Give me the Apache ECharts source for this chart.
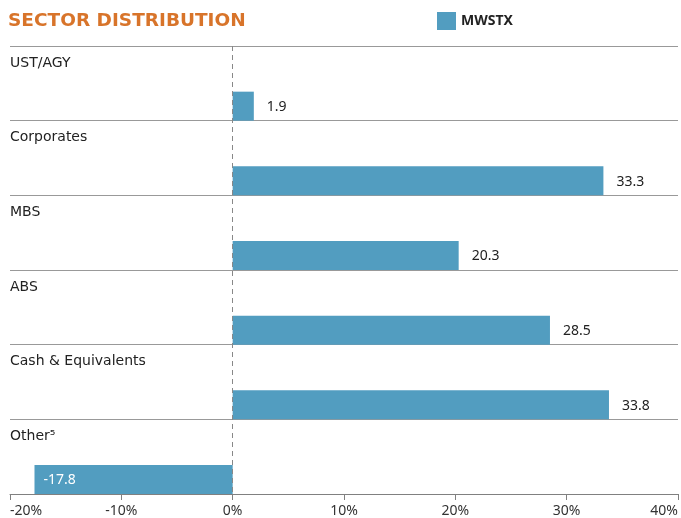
<!DOCTYPE html>
<html>
<head>
<meta charset="utf-8">
<script src="https://cdn.jsdelivr.net/npm/echarts@6/dist/echarts.min.js"></script>
<style>
html,body{margin:0;padding:0;background:#fff;}
#chart{width:681px;height:518px;}
</style>
</head>
<body>
<div id="chart"></div>
<script>
var categories = ['UST/AGY', 'Corporates', 'MBS', 'ABS', 'Cash & Equivalents', 'Other\u2075'];
var mwstxValues = [1.9, 33.3, 20.3, 28.5, 33.8, -17.8];
var xTicks = [-20, -10, 0, 10, 20, 30, 40];
var seriesName = 'MWSTX';
var chartTitle = 'SECTOR DISTRIBUTION';

var BAR_COLOR = '#529DC0';
var FONT = '"Noto Sans", sans-serif';
var CAT_FONT = '"DejaVu Sans", sans-serif';

var chart = echarts.init(document.getElementById('chart'), null, {renderer: 'canvas'});

var data = categories.map(function (c, i) { return [mwstxValues[i], i]; });

chart.setOption({
  animation: false,
  title: {
    text: chartTitle,
    left: 8, top: 12, padding: 0,
    textStyle: {color: '#D8742A', fontSize: 18.5, fontWeight: 'bold', fontFamily: '"DejaVu Sans", sans-serif'}
  },
  legend: {
    data: [seriesName],
    left: 437, top: 12, padding: 0,
    icon: 'rect', itemWidth: 19, itemHeight: 18, itemGap: 8,
    textStyle: {color: '#222', fontSize: 14, fontWeight: 'bold', fontFamily: FONT}
  },
  grid: {left: 10, right: 1, top: 46, bottom: 24, containLabel: false},
  xAxis: {
    type: 'value',
    min: xTicks[0], max: xTicks[xTicks.length - 1], interval: 10,
    axisLine: {show: true, lineStyle: {color: '#808080', width: 1}},
    axisTick: {show: true, length: 6, lineStyle: {color: '#808080'}},
    splitLine: {show: false},
    axisLabel: {
      formatter: '{value}%', color: '#333', fontSize: 14, fontFamily: FONT, margin: 10,
      alignMinLabel: 'left', alignMaxLabel: 'right'
    }
  },
  yAxis: {
    type: 'category',
    data: categories,
    inverse: true,
    axisLine: {show: false},
    axisTick: {show: false},
    splitLine: {show: true, lineStyle: {color: '#999', width: 1}},
    axisLabel: {show: false}
  },
  series: [{
    type: 'custom',
    name: seriesName,
    itemStyle: {color: BAR_COLOR},
    encode: {x: 0, y: 1},
    data: data,
    renderItem: function (params, api) {
      var v = api.value(0);
      var idx = api.value(1);
      var base = api.coord([0, idx]);
      var end = api.coord([v, idx]);
      var left = api.coord([xTicks[0], idx]);
      var bandH = api.size([0, 1])[1];
      var barH = 29;
      var bandTop = base[1] - bandH / 2;
      var bottom = base[1] + bandH / 2;
      var top = bottom - barH;
      var x = Math.min(base[0], end[0]);
      var w = Math.abs(end[0] - base[0]);
      var neg = v < 0;
      return {
        type: 'group',
        children: [{
          type: 'text',
          style: {
            text: categories[idx],
            x: left[0], y: bandTop + 17,
            align: 'left', verticalAlign: 'middle',
            fill: '#222', fontSize: 14, fontFamily: CAT_FONT
          }
        }, {
          type: 'rect',
          shape: {x: x, y: top, width: w, height: barH},
          style: {fill: BAR_COLOR}
        }, {
          type: 'text',
          style: {
            text: String(v),
            x: neg ? end[0] + 9 : end[0] + 13,
            y: top + barH / 2 + 1,
            align: 'left', verticalAlign: 'middle',
            fill: neg ? '#fff' : '#222',
            fontSize: 14, fontFamily: FONT
          }
        }]
      };
    },
    markLine: {
      silent: true, symbol: 'none',
      label: {show: false},
      lineStyle: {type: [5, 4], color: '#888', width: 1},
      data: [{xAxis: 0}]
    },
    z: 3
  }]
});
</script>
</body>
</html>
